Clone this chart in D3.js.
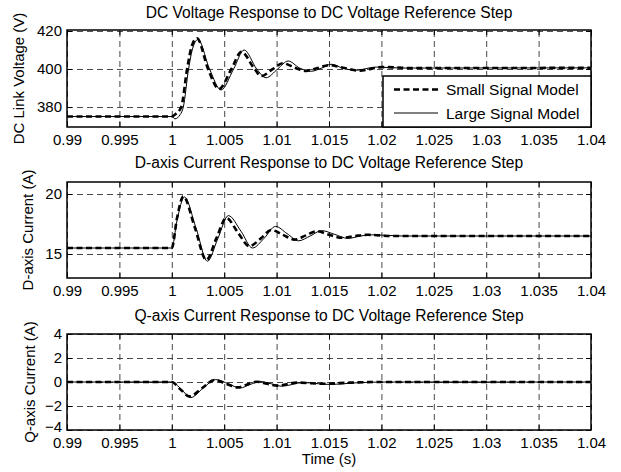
<!DOCTYPE html>
<html>
<head>
<meta charset="utf-8">
<script src="https://cdn.jsdelivr.net/npm/d3@7"></script>
<style>
  body { margin: 0; background: #fff; }
  svg { display: block; font-family: "Liberation Sans", Arial, Helvetica, sans-serif; }
  .grid line { stroke: #333; stroke-dasharray: 6,4; stroke-width: 0.9; }
  .grid .domain { display: none; }
  .axis .domain { display: none; }
  .axis line { stroke: #000; stroke-width: 1; }
  .axis text { fill: #000; font-size: 15px; }
</style>
</head>
<body>
<div id="chart"></div>
<script>

// time axis
const xTicks = [0.99, 0.995, 1, 1.005, 1.01, 1.015, 1.02, 1.025, 1.03, 1.035, 1.04]

// panel 1 : DC link voltage (V)
const tVdcSmall = [0.99, 1.0, 1.0004, 1.0009, 1.00146, 1.0019, 1.0024, 1.00346, 1.0045, 1.00569, 1.00664, 1.0079, 1.00854, 1.00965, 1.0106, 1.0118, 1.0128, 1.0139, 1.015, 1.0165, 1.0179, 1.0201, 1.023, 1.04]
const vdcSmall  = [375, 375, 376.5, 380, 400, 412, 416.2, 400, 389.5, 400, 409, 400, 396.3, 400, 403, 400.5, 399, 400.5, 402, 400.5, 399.1, 401, 400.5, 400.6]
const tVdcLarge = [0.99, 1.0, 1.0003, 1.0008, 1.0011, 1.0016, 1.002, 1.0025, 1.0036, 1.0047, 1.0059, 1.0069, 1.0081, 1.009, 1.0101, 1.0111, 1.0122, 1.0133, 1.0143, 1.0152, 1.0163, 1.0175, 1.0195, 1.022, 1.04]
const vdcLarge  = [375, 375, 373.8, 376, 380, 400, 411, 415.5, 400, 389, 400, 410, 400, 395.4, 400, 404.2, 400.5, 398.8, 400.5, 402.5, 400.5, 399.3, 401, 400.5, 400.6]
const vdcTicks  = [380, 400, 420]

// panel 2 : d-axis current (A)
const tIdSmall = [0.99, 1.0, 1.0005, 1.0011, 1.0022, 1.0033, 1.00425, 1.0052, 1.0063, 1.0074, 1.0085, 1.0095, 1.0106, 1.0117, 1.0128, 1.0138, 1.015, 1.0163, 1.0175, 1.0187, 1.021, 1.04]
const idSmall  = [15.5, 15.5, 18.0, 19.8, 17.2, 14.5, 16.3, 18.0, 16.8, 15.65, 16.3, 17.0, 16.6, 16.2, 16.55, 16.9, 16.6, 16.35, 16.5, 16.6, 16.5, 16.5]
const tIdLarge = [0.99, 1.0, 1.0005, 1.0012, 1.0023, 1.0034, 1.0044, 1.0054, 1.0066, 1.0077, 1.0088, 1.0099, 1.011, 1.0121, 1.0132, 1.0143, 1.0155, 1.0168, 1.018, 1.0192, 1.022, 1.04]
const idLarge  = [15.5, 15.5, 17.8, 19.75, 17.2, 14.4, 16.3, 18.2, 16.9, 15.5, 16.3, 17.3, 16.7, 16.1, 16.5, 16.95, 16.65, 16.3, 16.5, 16.6, 16.5, 16.5]
const idTicks  = [15, 20]

// panel 3 : q-axis current (A)
const tIqSmall = [0.99, 1.0, 1.0008, 1.0017, 1.0029, 1.0041, 1.0052, 1.0063, 1.0072, 1.0081, 1.0091, 1.0101, 1.012, 1.0145, 1.017, 1.02, 1.04]
const iqSmall  = [0, 0, -0.6, -1.2, -0.5, 0.17, -0.15, -0.45, -0.2, 0.02, -0.15, -0.3, -0.05, -0.15, -0.05, 0, 0]
const tIqLarge = [0.99, 1.0, 1.0009, 1.0018, 1.003, 1.0042, 1.0054, 1.0065, 1.0075, 1.0084, 1.0095, 1.0105, 1.0125, 1.015, 1.018, 1.021, 1.04]
const iqLarge  = [0, 0, -0.6, -1.3, -0.5, 0.2, -0.15, -0.5, -0.2, 0.05, -0.15, -0.35, -0.05, -0.2, -0.05, 0, 0]
const iqTicks  = [-4, -2, 0, 2, 4]

const legendNames = ["Small Signal Model", "Large Signal Model"]

const width = 621, height = 472
const left = 67, right = 591

const zip = (ts, vs) => ts.map((t, i) => ({t: t, v: vs[i]}))

const panels = [
  {title: "DC Voltage Response to DC Voltage Reference Step", ylabel: "DC Link Voltage (V)",
   top: 30, bottom: 127, domain: [369.5, 420.5], ticks: vdcTicks, labelX: 24, titleY: 18,
   small: zip(tVdcSmall, vdcSmall), large: zip(tVdcLarge, vdcLarge), legend: true},
  {title: "D-axis Current Response to DC Voltage Reference Step", ylabel: "D-axis Current (A)",
   top: 182, bottom: 278, domain: [13, 21], ticks: idTicks, labelX: 33, titleY: 168,
   small: zip(tIdSmall, idSmall), large: zip(tIdLarge, idLarge)},
  {title: "Q-axis Current Response to DC Voltage Reference Step", ylabel: "Q-axis Current (A)",
   top: 334, bottom: 430, domain: [-4, 4], ticks: iqTicks, labelX: 35, titleY: 321,
   small: zip(tIqSmall, iqSmall), large: zip(tIqLarge, iqLarge), xlabel: "Time (s)"}
]

const svg = d3.select("#chart").append("svg")
  .attr("width", width)
  .attr("height", height)

svg.append("rect").attr("width", width).attr("height", height).attr("fill", "#fff")

const x = d3.scaleLinear().domain([0.99, 1.04]).range([left, right])
const fmt = d => String(+d.toFixed(3))

panels.forEach(p => {
  let h = p.bottom - p.top
  let y = d3.scaleLinear().domain(p.domain).range([p.bottom, p.top])

  // grid
  svg.append("g").attr("class", "grid")
    .attr("transform", "translate(0," + p.bottom + ")")
    .call(d3.axisBottom(x).tickValues(xTicks).tickSize(-h).tickFormat(""))
  svg.append("g").attr("class", "grid")
    .attr("transform", "translate(" + left + ",0)")
    .call(d3.axisLeft(y).tickValues(p.ticks).tickSize(-(right - left)).tickFormat(""))

  // lines
  let line = d3.line().x(d => x(d.t)).y(d => y(d.v)).curve(d3.curveMonotoneX)

  svg.append("path").datum(p.small)
    .attr("d", line)
    .attr("fill", "none")
    .attr("stroke", "#000")
    .attr("stroke-width", 2.6)
    .attr("stroke-dasharray", "6,3.5")

  svg.append("path").datum(p.large)
    .attr("d", line)
    .attr("fill", "none")
    .attr("stroke", "#000")
    .attr("stroke-width", 1)

  // axes with inward ticks
  svg.append("g").attr("class", "axis")
    .attr("transform", "translate(0," + p.bottom + ")")
    .call(d3.axisBottom(x).tickValues(xTicks).tickSizeInner(-5).tickSizeOuter(0).tickPadding(7.5).tickFormat(fmt))
  svg.append("g").attr("class", "axis")
    .attr("transform", "translate(0," + p.top + ")")
    .call(d3.axisTop(x).tickValues(xTicks).tickSizeInner(-5).tickSizeOuter(0).tickFormat(""))
  let yAxis = svg.append("g").attr("class", "axis")
    .attr("transform", "translate(" + left + ",0)")
    .call(d3.axisLeft(y).tickValues(p.ticks).tickSizeInner(-5).tickSizeOuter(0).tickPadding(5))
  // lowest label sits on the bottom edge: lift it clear of the time labels
  yAxis.selectAll(".tick text").filter(d => d == p.domain[0])
    .attr("dy", "0.1em")
  svg.append("g").attr("class", "axis")
    .attr("transform", "translate(" + right + ",0)")
    .call(d3.axisRight(y).tickValues(p.ticks).tickSizeInner(-5).tickSizeOuter(0).tickFormat(""))

  // frame
  svg.append("rect")
    .attr("x", left).attr("y", p.top)
    .attr("width", right - left).attr("height", h)
    .attr("fill", "none").attr("stroke", "#000").attr("stroke-width", 1.5)

  // title
  svg.append("text")
    .attr("x", (left + right) / 2).attr("y", p.titleY)
    .attr("text-anchor", "middle")
    .style("font-size", "15.6px")
    .text(p.title)

  // y label
  svg.append("text")
    .attr("transform", "translate(" + p.labelX + "," + (p.top + h / 2) + ")rotate(-90)")
    .attr("text-anchor", "middle")
    .style("font-size", "15px")
    .text(p.ylabel)

  if (p.xlabel) {
    svg.append("text")
      .attr("x", (left + right) / 2).attr("y", 464)
      .attr("text-anchor", "middle")
      .style("font-size", "15px")
      .text(p.xlabel)
  }

  if (p.legend) {
    let lg = svg.append("g").attr("transform", "translate(383,76)")
    lg.append("rect")
      .attr("width", right - 383).attr("height", p.bottom - 76)
      .attr("fill", "#fff").attr("stroke", "#000").attr("stroke-width", 1.5)
    legendNames.forEach((name, i) => {
      let yy = 13.5 + i * 23.5
      lg.append("line")
        .attr("x1", 11).attr("x2", 55).attr("y1", yy).attr("y2", yy)
        .attr("stroke", "#000")
        .attr("stroke-width", i == 0 ? 2.6 : 1)
        .attr("stroke-dasharray", i == 0 ? "6,3.5" : null)
      lg.append("text")
        .attr("x", 63).attr("y", yy + 5.5)
        .style("font-size", "15.5px")
        .text(name)
    })
  }
})

</script>
</body>
</html>
